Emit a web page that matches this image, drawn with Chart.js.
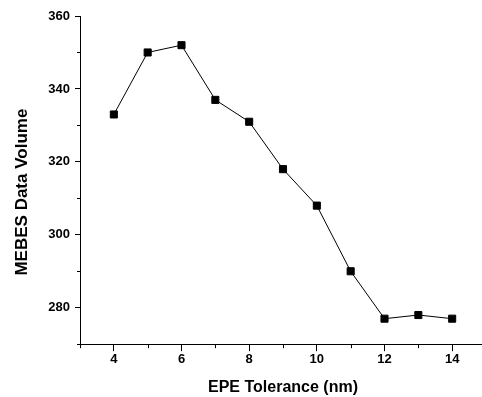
<!DOCTYPE html>
<html>
<head>
<meta charset="utf-8">
<script src="https://cdn.jsdelivr.net/npm/chart.js@4/dist/chart.umd.min.js"></script>
<style>
  html, body { margin: 0; padding: 0; background: #fff; overflow: hidden; }
  #wrap { width: 482px; height: 397px; overflow: hidden; position: relative; }
  #box { width: 492px; height: 397px; position: absolute; left: 0; top: 0; }
</style>
</head>
<body>
<div id="wrap"><div id="box"><canvas id="c"></canvas></div></div>
<script>
const xValues = [4, 5, 6, 7, 8, 9, 10, 11, 12, 13, 14];
const dataVolume = [333, 350, 352, 337, 331, 318, 308, 290, 277, 278, 277];
const xTickLabels = [4, 6, 8, 10, 12, 14];
const yTickLabels = [280, 300, 320, 340, 360];
const xTitle = 'EPE Tolerance (nm)';
const yTitle = 'MEBES Data Volume';

const FONT = '"Liberation Sans", Arial, sans-serif';

const extras = {
  id: 'extras',
  afterDraw(chart) {
    const ctx = chart.ctx;
    const xs = chart.scales.x, ys = chart.scales.y;
    ctx.save();
    ctx.strokeStyle = '#000';
    ctx.lineWidth = 1;
    for (let v = Math.ceil(xs.min); v <= xs.max; v++) {
      if (xTickLabels.includes(v)) continue;
      const px = Math.round(xs.getPixelForValue(v)) + 0.5;
      ctx.beginPath();
      ctx.moveTo(px, ys.bottom);
      ctx.lineTo(px, ys.bottom + 4);
      ctx.stroke();
    }
    for (let v = ys.min; v <= ys.max; v += 10) {
      if (yTickLabels.includes(v)) continue;
      const py = Math.round(ys.getPixelForValue(v)) + 0.5;
      ctx.beginPath();
      ctx.moveTo(xs.left, py);
      ctx.lineTo(xs.left - 3, py);
      ctx.stroke();
    }
    // y-axis title, placed as in the reference (slightly below the axis centre)
    ctx.translate(22, (ys.top + ys.bottom) / 2 + 12);
    ctx.rotate(-Math.PI / 2);
    ctx.fillStyle = '#000';
    ctx.font = 'bold 17px ' + FONT;
    ctx.textAlign = 'center';
    ctx.textBaseline = 'middle';
    ctx.fillText(yTitle, 0, 0);
    ctx.restore();
  }
};

new Chart(document.getElementById('c'), {
  type: 'line',
  data: {
    datasets: [{
      data: xValues.map((x, i) => ({ x: x, y: dataVolume[i] })),
      borderColor: '#000',
      borderWidth: 1,
      backgroundColor: '#000',
      pointStyle: 'rect',
      pointRadius: 5,
      pointBorderWidth: 1,
      pointBorderColor: '#000',
      pointBackgroundColor: '#000',
      tension: 0
    }]
  },
  options: {
    responsive: true,
    maintainAspectRatio: false,
    animation: false,
    events: [],
    layout: { padding: { top: 16, right: 4, bottom: 0, left: 12 } },
    plugins: { legend: { display: false }, tooltip: { enabled: false } },
    scales: {
      x: {
        type: 'linear',
        min: 3, max: 15,
        afterBuildTicks(axis) { axis.ticks = xTickLabels.map(v => ({ value: v })); },
        border: { display: true, color: '#000', width: 1 },
        grid: { drawOnChartArea: false, drawTicks: true, tickLength: 7, color: '#000', tickColor: '#000' },
        ticks: {
          color: '#000',
          font: { family: FONT, size: 13, weight: 'bold' },
          padding: 0,
          maxRotation: 0
        },
        title: {
          display: true, text: xTitle, color: '#000',
          font: { family: FONT, size: 16, weight: 'bold' },
          padding: { top: 11, bottom: 0 }
        }
      },
      y: {
        type: 'linear',
        min: 270, max: 360,
        afterBuildTicks(axis) { axis.ticks = yTickLabels.map(v => ({ value: v })); },
        afterFit(axis) { axis.width = 68; },
        border: { display: true, color: '#000', width: 1 },
        grid: { drawOnChartArea: false, drawTicks: true, tickLength: 5, color: '#000', tickColor: '#000' },
        ticks: {
          color: '#000',
          font: { family: FONT, size: 13, weight: 'bold' },
          padding: 5
        },
        title: { display: false }
      }
    }
  },
  plugins: [extras]
});
</script>
</body>
</html>
